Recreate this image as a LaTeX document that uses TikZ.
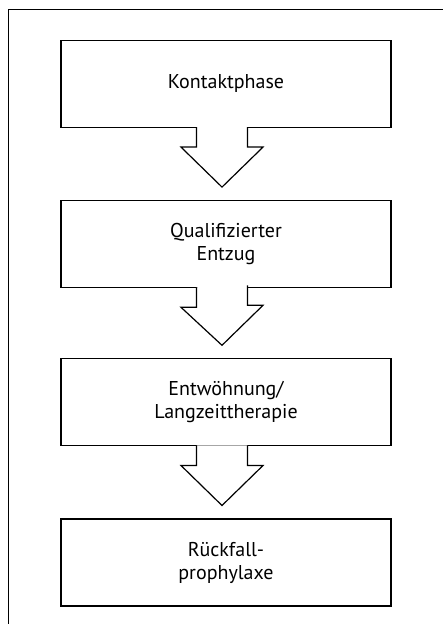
\documentclass[tikz,border=0pt]{standalone}
\usepackage{fontspec}
\setmainfont{PT Sans}
\usetikzlibrary{positioning}

\newcommand{\blockpfeil}[2]{%
  \filldraw[pfeil] ([xshift=-29.5pt,yshift=1pt]#1.south) -- ++(0,-20) -- ++(-15.5,0)
    -- ([xshift=-4pt,yshift=13pt]#2.north) -- ++(41,40) -- ++(-15.5,0) -- ++(0,20);}

\begin{document}
\begin{tikzpicture}[x=1pt, y=1pt,
  stufe/.style={draw, line width=1.2pt, minimum width=330pt, minimum height=87pt,
    align=center, font=\fontsize{20}{23}\selectfont},
  pfeil/.style={line width=1.2pt, fill=white}]
\useasboundingbox (0,0) rectangle (443,624);
% Rahmen
\draw[line width=1pt] (8,0) -- (8,614) -- (443,614);

\node[stufe] (kontakt) at (226,540) {Kontaktphase};
\node[stufe, below=72pt of kontakt] (entzug) {Qualifizierter\\Entzug};
\node[stufe, below=70pt of entzug] (entwoehnung) {Entwöhnung/\\Langzeittherapie};
\node[stufe, below=72pt of entwoehnung] (rueckfall) {Rückfall-\\prophylaxe};

\blockpfeil{kontakt}{entzug}
\blockpfeil{entzug}{entwoehnung}
\blockpfeil{entwoehnung}{rueckfall}
\end{tikzpicture}
\end{document}
